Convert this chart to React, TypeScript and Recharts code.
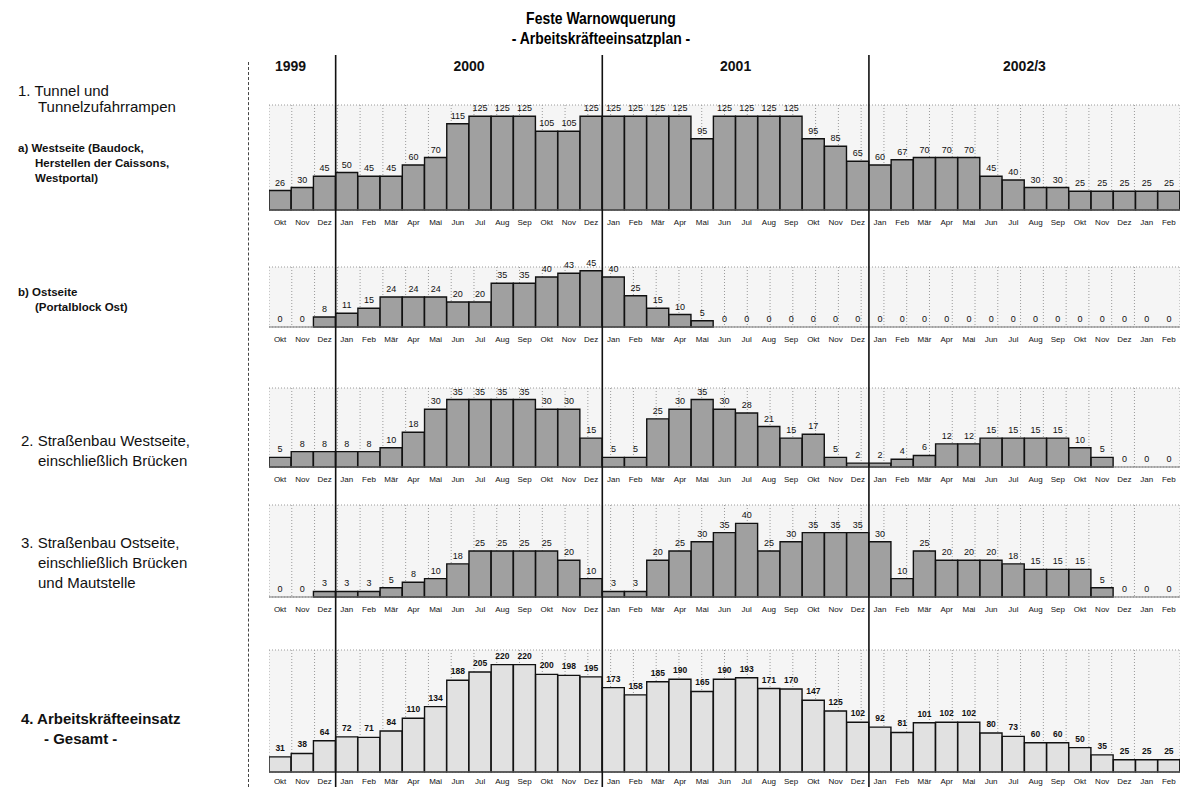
import React from 'react';
import {
  ComposedChart,
  Bar,
  Line,
  XAxis,
  YAxis,
  CartesianGrid,
  LabelList,
  ReferenceLine,
  ReferenceArea,
} from 'recharts';

// months Okt 1999 .. Feb 2003
const months = [
  'Okt 99', 'Nov 99', 'Dez 99',
  'Jan 00', 'Feb 00', 'Mär 00', 'Apr 00', 'Mai 00', 'Jun 00', 'Jul 00', 'Aug 00', 'Sep 00', 'Okt 00', 'Nov 00', 'Dez 00',
  'Jan 01', 'Feb 01', 'Mär 01', 'Apr 01', 'Mai 01', 'Jun 01', 'Jul 01', 'Aug 01', 'Sep 01', 'Okt 01', 'Nov 01', 'Dez 01',
  'Jan 02', 'Feb 02', 'Mär 02', 'Apr 02', 'Mai 02', 'Jun 02', 'Jul 02', 'Aug 02', 'Sep 02', 'Okt 02', 'Nov 02', 'Dez 02',
  'Jan 03', 'Feb 03',
];

const westseite = [
  26, 30, 45,
  50, 45, 45, 60, 70, 115, 125, 125, 125, 105, 105, 125,
  125, 125, 125, 125, 95, 125, 125, 125, 125, 95, 85, 65,
  60, 67, 70, 70, 70, 45, 40, 30, 30, 25, 25, 25,
  25, 25,
];

const ostseite = [
  0, 0, 8,
  11, 15, 24, 24, 24, 20, 20, 35, 35, 40, 43, 45,
  40, 25, 15, 10, 5, 0, 0, 0, 0, 0, 0, 0,
  0, 0, 0, 0, 0, 0, 0, 0, 0, 0, 0, 0,
  0, 0,
];

const strassenWest = [
  5, 8, 8,
  8, 8, 10, 18, 30, 35, 35, 35, 35, 30, 30, 15,
  5, 5, 25, 30, 35, 30, 28, 21, 15, 17, 5, 2,
  2, 4, 6, 12, 12, 15, 15, 15, 15, 10, 5, 0,
  0, 0,
];

const strassenOst = [
  0, 0, 3,
  3, 3, 5, 8, 10, 18, 25, 25, 25, 25, 20, 10,
  3, 3, 20, 25, 30, 35, 40, 25, 30, 35, 35, 35,
  30, 10, 25, 20, 20, 20, 18, 15, 15, 15, 5, 0,
  0, 0,
];

const gesamt = [
  31, 38, 64,
  72, 71, 84, 110, 134, 188, 205, 220, 220, 200, 198, 195,
  173, 158, 185, 190, 165, 190, 193, 171, 170, 147, 125, 102,
  92, 81, 101, 102, 102, 80, 73, 60, 60, 50, 35, 25,
  25, 25,
];

const yearBands = [
  { label: '1999', from: 'Okt 99', to: 'Dez 99', pos: 'insideTopLeft' },
  { label: '2000', from: 'Jan 00', to: 'Dez 00', pos: 'insideTop' },
  { label: '2001', from: 'Jan 01', to: 'Dez 01', pos: 'insideTop' },
  { label: '2002/3', from: 'Jan 02', to: 'Feb 03', pos: 'insideTop' },
];
const yearStarts = ['Jan 00', 'Jan 01', 'Jan 02'];

const FONT = 'Arial, "Liberation Sans", Helvetica, sans-serif';
const PLOT_LEFT = 269;
const PLOT_WIDTH = 911;
const MARGIN_TOP = 16;
const AXIS_H = 20;
const DARK = '#a0a0a0';
const LIGHT = '#e1e1e1';

const boundaries = months.map((_, i) => i).concat(months.length);

function Panel({ values, max, top, baseline, fill, bold, tickMargin = 3 }: {
  values: number[]; max: number; top: number; baseline: number; fill: string; bold?: boolean; tickMargin?: number;
}) {
  const data = months.map((m, i) => ({ month: m, value: values[i] }));
  const plotH = baseline - top;
  return (
    <div style={{ position: 'absolute', left: PLOT_LEFT, top: top - MARGIN_TOP }}>
      <ComposedChart
        width={PLOT_WIDTH}
        height={plotH + MARGIN_TOP + AXIS_H}
        data={data}
        margin={{ top: MARGIN_TOP, right: 0, left: 0, bottom: 0 }}
        barCategoryGap={0}
      >
        <CartesianGrid xAxisId="grid" stroke="#9a9a9a" strokeDasharray="1 2" fill="#f5f5f5" />
        <XAxis
          dataKey="month"
          interval={0}
          tickFormatter={(v: string) => v.split(' ')[0]}
          tick={{ fontSize: 8, fill: '#111' }}
          tickLine={false}
          tickMargin={tickMargin}
          axisLine={{ stroke: '#777' }}
          height={AXIS_H}
        />
        <XAxis xAxisId="grid" type="number" domain={[0, months.length]} ticks={boundaries} hide />
        <YAxis hide domain={[0, max]} ticks={[max]} />
        <Bar dataKey="value" fill={fill} stroke="#111" strokeWidth={1.4} isAnimationActive={false} />
        {/* value labels (also for the zero months) */}
        <Line dataKey="value" stroke="none" dot={false} activeDot={false} isAnimationActive={false}>
          <LabelList
            dataKey="value"
            position="top"
            offset={bold ? 6 : 5}
            fontSize={bold ? 8.5 : 9}
            fontWeight={bold ? 700 : 400}
            fill="#111"
          />
        </Line>
      </ComposedChart>
    </div>
  );
}

function Lines({ lines, left, top, size, lineHeight, bold, indent }: {
  lines: string[]; left: number; top: number; size: number; lineHeight: number; bold?: boolean; indent: number;
}) {
  return (
    <div style={{ position: 'absolute', left, top, fontSize: size, lineHeight: `${lineHeight}px`, fontWeight: bold ? 700 : 400, whiteSpace: 'nowrap', color: '#111' }}>
      {lines.map((l, i) => (
        <div key={i} style={{ marginLeft: i === 0 ? 0 : indent }}>{l}</div>
      ))}
    </div>
  );
}

export default function App() {
  const overlayData = months.map((m, i) => ({ month: m, value: gesamt[i] }));
  return (
    <div style={{ position: 'absolute', left: 0, top: 0, width: 1180, height: 787, background: '#fff', fontFamily: FONT, overflow: 'hidden' }}>
      <div style={{ position: 'absolute', left: 401, width: 400, top: 9, textAlign: 'center', fontWeight: 700, fontSize: 17, lineHeight: '20px', transform: 'scaleX(0.82)' }}>
        <div>Feste Warnowquerung</div>
        <div>- Arbeitskräfteeinsatzplan -</div>
      </div>

      <div style={{ position: 'absolute', left: 248, top: 62, height: 725, borderLeft: '1px dashed #444' }} />

      <Lines lines={['1. Tunnel und', 'Tunnelzufahrrampen']} left={18} top={83} size={15} lineHeight={16} indent={20} />
      <Lines lines={['a) Westseite (Baudock,', 'Herstellen der Caissons,', 'Westportal)']} left={18} top={141} size={11.5} lineHeight={15} bold indent={17} />
      <Lines lines={['b) Ostseite', '(Portalblock Ost)']} left={18} top={285} size={11.5} lineHeight={15} bold indent={17} />
      <Lines lines={['2. Straßenbau Westseite,', 'einschließlich Brücken']} left={21} top={431} size={15} lineHeight={20} indent={17} />
      <Lines lines={['3. Straßenbau Ostseite,', 'einschließlich Brücken', 'und Mautstelle']} left={21} top={533} size={15} lineHeight={20} indent={17} />
      <Lines lines={['4. Arbeitskräfteeinsatz', '- Gesamt -']} left={21} top={709} size={15} lineHeight={20} bold indent={23} />

      <Panel values={westseite} max={140} top={105} baseline={210} fill={DARK} />
      <Panel values={ostseite} max={48} top={267} baseline={327} fill={DARK} />
      <Panel values={strassenWest} max={41} top={388} baseline={467} fill={DARK} />
      <Panel values={strassenOst} max={50} top={505} baseline={597} fill={DARK} />
      <Panel values={gesamt} max={250} top={650} baseline={772} fill={LIGHT} bold tickMargin={0} />

      {/* year separators and year headings across all panels */}
      <div style={{ position: 'absolute', left: PLOT_LEFT, top: 55, pointerEvents: 'none' }}>
        <ComposedChart width={PLOT_WIDTH} height={732} data={overlayData} margin={{ top: 0, right: 0, left: 0, bottom: 0 }}>
          <XAxis dataKey="month" scale="band" hide />
          <YAxis hide domain={[0, 250]} />
          <Line dataKey="value" stroke="none" dot={false} activeDot={false} isAnimationActive={false} />
          {yearBands.map((y) => (
            <ReferenceArea
              key={y.label}
              x1={y.from}
              x2={y.to}
              fill="none"
              stroke="none"
              ifOverflow="visible"
              label={{ value: y.label, position: y.pos, offset: 6, fontSize: 14, fontWeight: 700, fill: '#111' }}
            />
          ))}
          {yearStarts.map((k) => (
            <ReferenceLine key={k} x={k} position="start" stroke="#111" strokeWidth={1.6} ifOverflow="visible" />
          ))}
        </ComposedChart>
      </div>
    </div>
  );
}
